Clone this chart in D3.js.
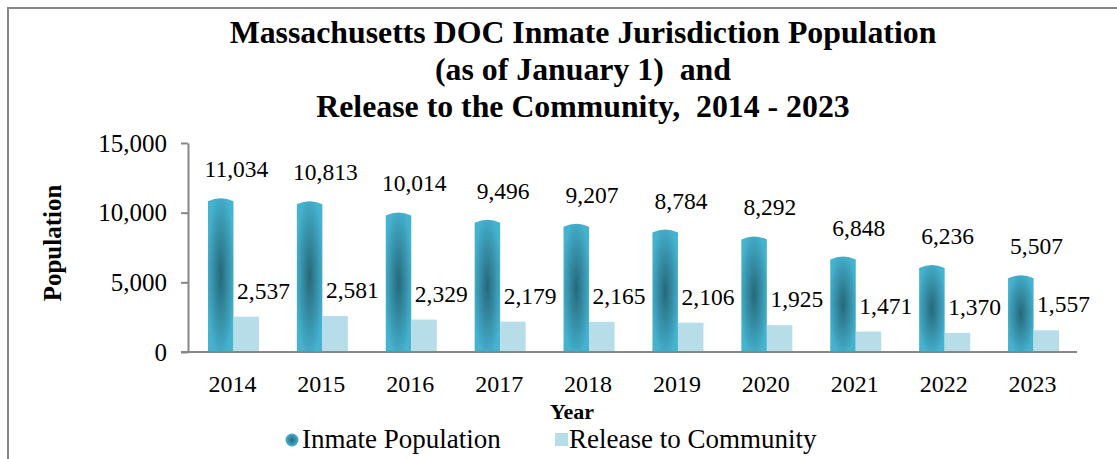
<!DOCTYPE html>
<html>
<head>
<meta http-equiv='Content-Type' content='text/html;charset=utf-8'/>
<title>Massachusetts DOC Population</title>
<script src='https://d3js.org/d3.v7.min.js'></script>
<style>
body {
	margin: 0;
	background: #ffffff;
}

svg text {
	font-family: 'Liberation Serif', 'Times New Roman', serif;
	fill: #000000;
}
</style>
</head>
<body>
<script>
'use strict'

// chart data
const years = ['2014', '2015', '2016', '2017', '2018', '2019', '2020', '2021', '2022', '2023']
const inmates = [11034, 10813, 10014, 9496, 9207, 8784, 8292, 6848, 6236, 5507]
const releases = [2537, 2581, 2329, 2179, 2165, 2106, 1925, 1471, 1370, 1557]
const yTicks = [0, 5000, 10000, 15000]
const seriesNames = ['Inmate Population', 'Release to Community']
const titleLines = ['Massachusetts DOC Inmate Jurisdiction Population', '(as of January 1)  and', 'Release to the Community,  2014 - 2023']

const W = 1117, H = 459
const plot = {left: 188, right: 1077, top: 143, bottom: 352}

const svg = d3.select('body').append('svg')
	.attr('width', W)
	.attr('height', H)

const defs = svg.append('defs')
const grad = defs.append('radialGradient')
	.attr('id', 'cyl')
	.attr('cx', '50%').attr('cy', '50%').attr('r', '55%')
grad.append('stop').attr('offset', '0%').attr('stop-color', '#26687a')
grad.append('stop').attr('offset', '100%').attr('stop-color', '#45b2cf')

// outer frame (runs off the right and bottom edges)
svg.append('path')
	.attr('d', 'M8,' + (H + 5) + ' V8 H' + (W + 5))
	.attr('fill', 'none')
	.attr('stroke', '#878787')
	.attr('stroke-width', 2)

// title
svg.append('g').selectAll('text')
	.data(titleLines)
	.join('text')
	.attr('x', 583)
	.attr('y', (d, i) => 43 + i * 37)
	.attr('text-anchor', 'middle')
	.attr('font-weight', 'bold')
	.attr('font-size', '31.8px')
	.style('white-space', 'pre')
	.text(d => d)

const x = d3.scaleBand().domain(years).range([plot.left, plot.right])
const y = d3.scaleLinear().domain([0, 15000]).range([plot.bottom, plot.top])
const fmt = d3.format(',')
const barW = 25.5

// y axis
const yAxis = svg.append('g')
	.attr('transform', 'translate(' + plot.left + ',0)')
	.call(d3.axisLeft(y).tickValues(yTicks).tickSize(7).tickSizeOuter(0).tickFormat(fmt))
yAxis.selectAll('line, path').attr('stroke', '#878787').attr('stroke-width', 2)
yAxis.selectAll('text')
	.attr('font-size', '25px')
	.attr('x', -21)

// bars
const groups = svg.append('g').selectAll('g')
	.data(years)
	.join('g')

groups.append('path')
	.attr('fill', 'url(#cyl)')
	.attr('d', (d, i) => {
		const x0 = x(d) + x.bandwidth() / 2 - 24.5
		const top = y(inmates[i])
		return 'M' + x0 + ',' + plot.bottom + ' V' + (top + 3) +
			' Q' + (x0 + barW / 2) + ',' + (top - 3) + ' ' + (x0 + barW) + ',' + (top + 3) +
			' V' + plot.bottom + ' Z'
	})

groups.append('rect')
	.attr('fill', '#b7dde8')
	.attr('x', d => x(d) + x.bandwidth() / 2 + 1)
	.attr('y', (d, i) => y(releases[i]))
	.attr('width', barW)
	.attr('height', (d, i) => plot.bottom - y(releases[i]))

// value labels
groups.append('text')
	.attr('x', d => x(d) + x.bandwidth() / 2 + 4)
	.attr('y', (d, i) => y(inmates[i]) - 21)
	.attr('text-anchor', 'middle')
	.attr('font-size', '23.5px')
	.text((d, i) => fmt(inmates[i]))

groups.append('text')
	.attr('x', d => x(d) + x.bandwidth() / 2 + 31)
	.attr('y', (d, i) => y(releases[i]) - 18)
	.attr('text-anchor', 'middle')
	.attr('font-size', '23.5px')
	.text((d, i) => fmt(releases[i]))

// x axis
const xAxis = svg.append('g')
	.attr('transform', 'translate(0,' + plot.bottom + ')')
	.call(d3.axisBottom(x).tickSize(0).tickPadding(23))
xAxis.select('path')
	.attr('d', 'M181,0 H' + plot.right)
	.attr('stroke', '#878787').attr('stroke-width', 2)
xAxis.selectAll('text')
	.attr('font-size', '24px')

// axis titles
svg.append('text')
	.attr('x', 572).attr('y', 419)
	.attr('text-anchor', 'middle')
	.attr('font-weight', 'bold')
	.attr('font-size', '22px')
	.text('Year')

svg.append('text')
	.attr('transform', 'translate(61,243) rotate(-90)')
	.attr('text-anchor', 'middle')
	.attr('font-weight', 'bold')
	.attr('font-size', '25px')
	.text('Population')

// legend
const legend = svg.append('g')
const rg = defs.append('radialGradient').attr('id', 'dot')
rg.append('stop').attr('offset', '0%').attr('stop-color', '#26687a')
rg.append('stop').attr('offset', '100%').attr('stop-color', '#45b2cf')
legend.append('circle')
	.attr('cx', 292).attr('cy', 440).attr('r', 6.5)
	.attr('fill', 'url(#dot)')
legend.append('text')
	.attr('x', 302).attr('y', 448)
	.attr('font-size', '27px')
	.text(seriesNames[0])
legend.append('rect')
	.attr('x', 555).attr('y', 433).attr('width', 13).attr('height', 13)
	.attr('fill', '#b7dde8')
legend.append('text')
	.attr('x', 569).attr('y', 448)
	.attr('font-size', '27px')
	.text(seriesNames[1])
</script>
</body>
</html>
